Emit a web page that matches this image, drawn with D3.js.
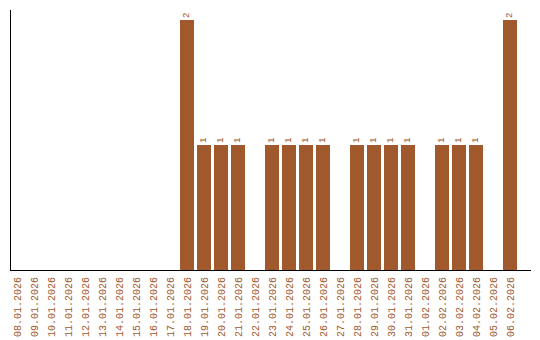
<!DOCTYPE html>
<html>
<head>
<meta charset="utf-8">
<script src="https://cdn.jsdelivr.net/npm/d3@7"></script>
<style>
    body { margin: 0; background: #fff; }
    svg text { font-family: "Liberation Mono", monospace; fill: #a0592d; }
</style>
</head>
<body>
<svg id="chart" width="540" height="340"></svg>
<script>
// days shown on the x axis
const days = ["08.01.2026", "09.01.2026", "10.01.2026", "11.01.2026", "12.01.2026",
    "13.01.2026", "14.01.2026", "15.01.2026", "16.01.2026", "17.01.2026",
    "18.01.2026", "19.01.2026", "20.01.2026", "21.01.2026", "22.01.2026",
    "23.01.2026", "24.01.2026", "25.01.2026", "26.01.2026", "27.01.2026",
    "28.01.2026", "29.01.2026", "30.01.2026", "31.01.2026", "01.02.2026",
    "02.02.2026", "03.02.2026", "04.02.2026", "05.02.2026", "06.02.2026"];
const counts = [0, 0, 0, 0, 0, 0, 0, 0, 0, 0,
    2, 1, 1, 1, 0, 1, 1, 1, 1, 0,
    1, 1, 1, 1, 0, 1, 1, 1, 0, 2];

const svg = d3.select("#chart");
const barColor = "#a0592d";

const x = d3.scaleBand()
    .domain(days)
    .range([8.5, 518.5])
    .paddingInner(3 / 17)
    .paddingOuter(1.5 / 17);

const y = d3.scaleLinear()
    .domain([0, 2])
    .range([270, 20]);

const data = days.map(function (d, i) { return {day: d, n: counts[i]}; });

// bars
svg.append("g").selectAll("rect")
    .data(data.filter(function (d) { return d.n > 0; }))
    .join("rect")
    .attr("x", function (d) { return x(d.day); })
    .attr("y", function (d) { return y(d.n); })
    .attr("width", x.bandwidth())
    .attr("height", function (d) { return y(0) - y(d.n); })
    .attr("fill", barColor);

// value labels above bars
svg.append("g").selectAll("text")
    .data(data.filter(function (d) { return d.n > 0; }))
    .join("text")
    .attr("transform", function (d) {
        return "translate(" + (x(d.day) + x.bandwidth() / 2 + 1.5) + "," + (y(d.n) - 2) + ") rotate(-90)";
    })
    .attr("font-size", 9)
    .text(function (d) { return d.n; });

// axes
svg.append("line")
    .attr("x1", 10.5).attr("x2", 10.5)
    .attr("y1", 10).attr("y2", 270)
    .attr("stroke", "#000");
svg.append("line")
    .attr("x1", 10).attr("x2", 531)
    .attr("y1", 270.5).attr("y2", 270.5)
    .attr("stroke", "#000");

// day labels
svg.append("g").selectAll("text")
    .data(days)
    .join("text")
    .attr("transform", function (d) {
        return "translate(" + (x(d) + x.bandwidth() / 2) + ",277) rotate(-90)";
    })
    .attr("dy", "0.35em")
    .attr("text-anchor", "end")
    .attr("font-size", 10)
    .text(function (d) { return d; });
</script>
</body>
</html>
